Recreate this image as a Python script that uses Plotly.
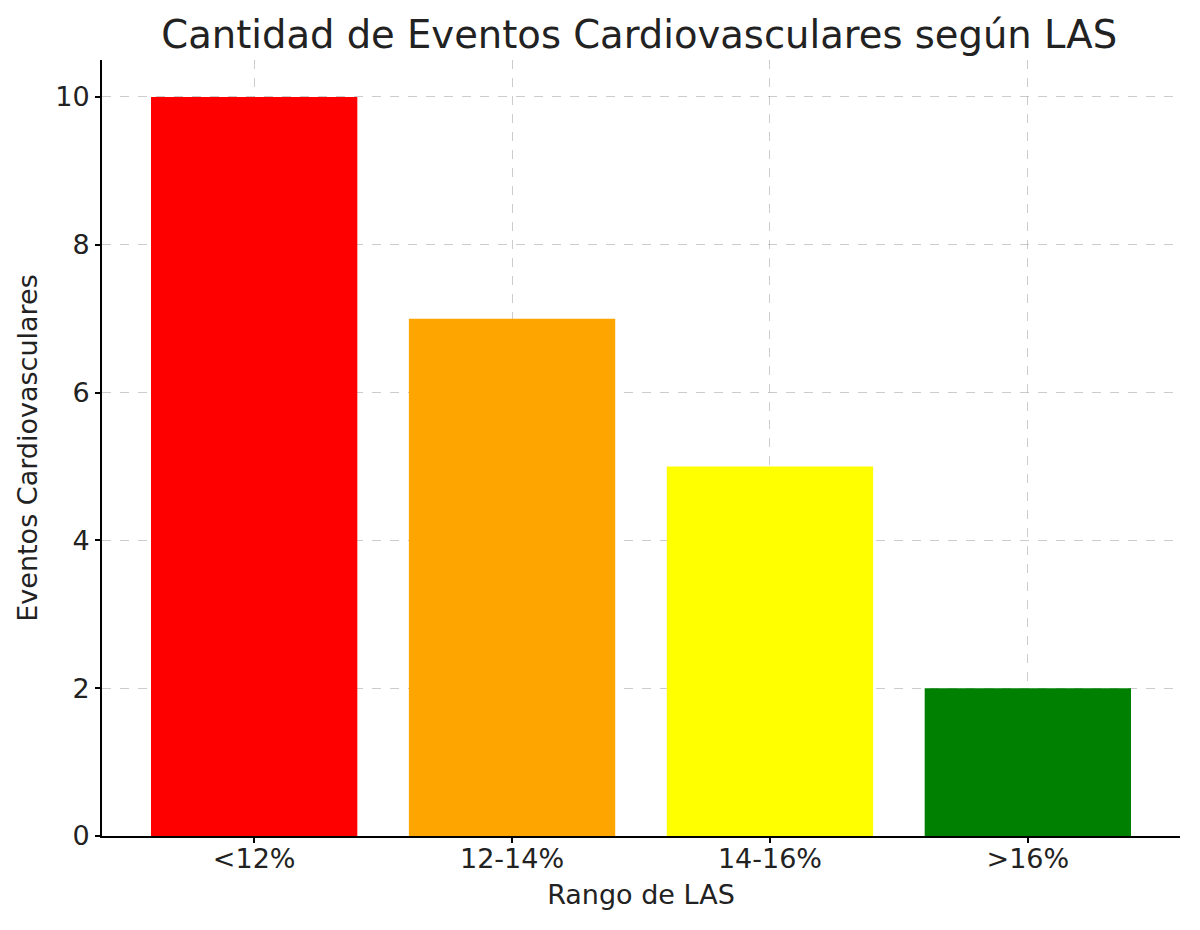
import plotly.graph_objects as go

# datos
rangos = ["<12%", "12-14%", "14-16%", ">16%"]
eventos = [10, 7, 5, 2]
colores = ["red", "orange", "yellow", "green"]

fig = go.Figure(data=go.Bar(x=rangos,
                            y=eventos,
                            marker_color=colores,
                            marker_line_width=0,
                            width=0.8))

fuente = "DejaVu Sans"

fig.update_layout(
    title=dict(text="Cantidad de Eventos Cardiovasculares según LAS",
               x=0.526, xanchor="center", y=0.971, yanchor="middle",
               font=dict(family=fuente, size=38.5, color="#222222")),
    width=1200,
    height=930,
    margin=dict(l=94, r=28, t=52, b=102),
    paper_bgcolor="white",
    plot_bgcolor="white",
    font=dict(family=fuente, size=27, color="#222222"),
    bargap=0.2,
    showlegend=False,
)

fig.update_xaxes(
    range=[-0.59, 3.59],
    title=dict(text="Rango de LAS", font=dict(size=27), standoff=12),
    showline=True, linecolor="black", linewidth=2,
    ticks="outside", ticklen=5, tickwidth=1.5, tickcolor="black",
    tickfont=dict(size=27), ticklabelstandoff=-7,
    showgrid=True, gridcolor="rgba(170,170,170,0.6)", griddash="dash", gridwidth=1,
    layer="above traces",
)
fig.update_yaxes(
    range=[0, 10.5],
    tickvals=[0, 2, 4, 6, 8, 10],
    title=dict(text="Eventos Cardiovasculares", font=dict(size=27), standoff=10),
    showline=True, linecolor="black", linewidth=2,
    ticks="outside", ticklen=5, tickwidth=1.5, tickcolor="black",
    tickfont=dict(size=27),
    showgrid=True, gridcolor="rgba(170,170,170,0.6)", griddash="dash", gridwidth=1,
    zeroline=False,
    layer="above traces",
)

fig.write_html("out.html")
